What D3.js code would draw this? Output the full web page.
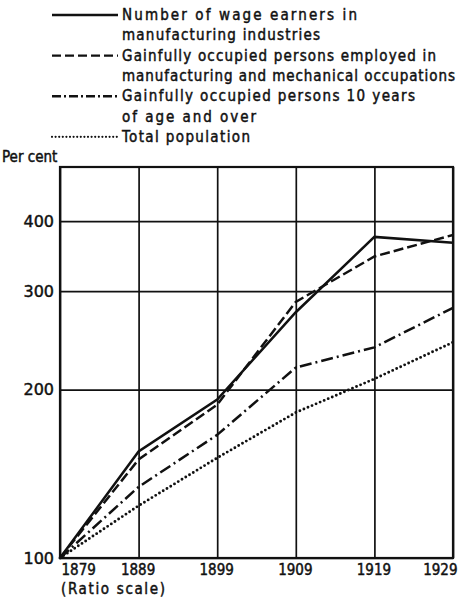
<!DOCTYPE html>
<html lang="en">
  <head>
    <meta charset="utf-8">
    <title>Ratio chart</title>
    <style>
      body { margin: 0; background: #fff; }
      text { fill: #111; stroke: #111; stroke-width: 0.45px; }
    </style>
    <script src="https://cdn.jsdelivr.net/npm/d3@7"></script>
  </head>
  <body>
    <div id="viz"></div>
    <script>
    // index numbers, 1879 = 100
    var years = [1879, 1889, 1899, 1909, 1919, 1929];
    var wageEarners = [100, 155, 192, 275, 375, 366];
    var mfgOccupied = [100, 150, 188, 287, 346, 378];
    var occupied10 = [100, 134, 166, 219, 238, 280];
    var population = [100, 124, 151, 182, 209, 243];
    var yTicks = [100, 200, 300, 400];

    var legendLabels = [
      ["Number of wage earners in", "manufacturing industries"],
      ["Gainfully occupied persons employed in", "manufacturing and mechanical occupations"],
      ["Gainfully occupied persons 10 years", "of age and over"],
      ["Total population"]
    ];
    var legendWidths = [[235, 198], [314, 333], [293, 134], [128]];
    var dashes = [null, "10,4", "12,4,2,4", "0,4.4"];
    var series = [wageEarners, mfgOccupied, occupied10, population];

    var svg = d3.select('#viz')
        .append('svg')
        .attr('width', 464)
        .attr('height', 600);

    var plotL = 60, plotR = 453, plotT = 167, plotB = 558;

    var x = d3.scaleLinear().domain([1879, 1929]).range([plotL, plotR]);
    var y = d3.scaleLog().domain([100, 500]).range([plotB, plotT]);

    // horizontal grid + y labels
    var yAxis = svg.append('g')
        .attr('transform', 'translate(' + plotL + ',0)')
        .call(d3.axisLeft(y).tickValues(yTicks).tickSize(-(plotR - plotL)).tickPadding(6)
          .tickFormat(d3.format('d')));
    yAxis.select('.domain').remove();
    yAxis.selectAll('.tick line').attr('stroke', '#111').attr('stroke-width', 1.7);
    yAxis.selectAll('.tick text')
        .attr('font-family', 'DejaVu Sans')
        .attr('font-size', 16)
        .attr('fill', '#111');

    // vertical grid + year labels
    var xAxis = svg.append('g')
        .attr('transform', 'translate(0,' + plotB + ')')
        .call(d3.axisBottom(x).tickValues(years).tickSize(-(plotB - plotT)).tickPadding(6)
          .tickFormat(d3.format('d')));
    xAxis.select('.domain').remove();
    xAxis.selectAll('.tick line').attr('stroke', '#111').attr('stroke-width', 1.7);
    xAxis.selectAll('.tick text')
        .attr('font-family', 'DejaVu Sans Condensed')
        .attr('font-size', 15)
        .attr('fill', '#111')
        .attr('text-anchor', function(d, i) {
          return i === 0 ? 'start' : (i === years.length - 1 ? 'end' : 'middle');
        })
        .attr('dx', function(d, i) {
          return i === 0 ? 1 : (i === years.length - 1 ? 4 : -1);
        });

    // frame
    svg.append('rect')
        .attr('x', plotL).attr('y', plotT)
        .attr('width', plotR - plotL).attr('height', plotB - plotT)
        .attr('fill', 'none').attr('stroke', '#111').attr('stroke-width', 2.2);

    // series
    var line = d3.line()
        .x(function(d, i) { return x(years[i]); })
        .y(function(d) { return y(d); });

    svg.append('g')
      .selectAll('path')
      .data(series)
      .enter()
      .append('path')
        .attr('d', line)
        .attr('fill', 'none')
        .attr('stroke', '#111')
        .attr('stroke-width', function(d, i) { return i === 3 ? 2.9 : 2.5; })
        .attr('stroke-linecap', function(d, i) { return i === 3 ? 'round' : 'butt'; })
        .attr('stroke-dasharray', function(d, i) { return dashes[i]; });

    // legend
    var lineGap = 20.3;
    var row = 0;
    legendLabels.forEach(function(lines, k) {
      var base = 20 + row * lineGap;
      svg.append('line')
          .attr('x1', 52).attr('x2', 118)
          .attr('y1', base - 5).attr('y2', base - 5)
          .attr('stroke', '#111')
          .attr('stroke-width', k === 3 ? 2.2 : 2.4)
          .attr('stroke-linecap', k === 3 ? 'round' : 'butt')
          .attr('stroke-dasharray', k === 1 ? '9,4' : (k === 2 ? '9,3,2,3' : (k === 3 ? '0,3.6' : null)));
      lines.forEach(function(t, j) {
        svg.append('text')
            .attr('x', 122)
            .attr('y', base + j * lineGap)
            .attr('font-family', 'DejaVu Sans Condensed')
            .attr('font-size', 15)
            .attr('textLength', legendWidths[k][j])
            .attr('lengthAdjust', 'spacing')
            .text(t);
      });
      row += lines.length;
    });

    svg.append('text')
        .attr('x', 2).attr('y', 162)
        .attr('font-family', 'DejaVu Sans Condensed')
        .attr('font-size', 15)
        .text('Per cent');

    svg.append('text')
        .attr('x', 61).attr('y', 594)
        .attr('font-family', 'DejaVu Sans Condensed')
        .attr('font-size', 15)
        .attr('textLength', 104)
        .attr('lengthAdjust', 'spacing')
        .text('(Ratio scale)');
    </script>
  </body>
</html>
